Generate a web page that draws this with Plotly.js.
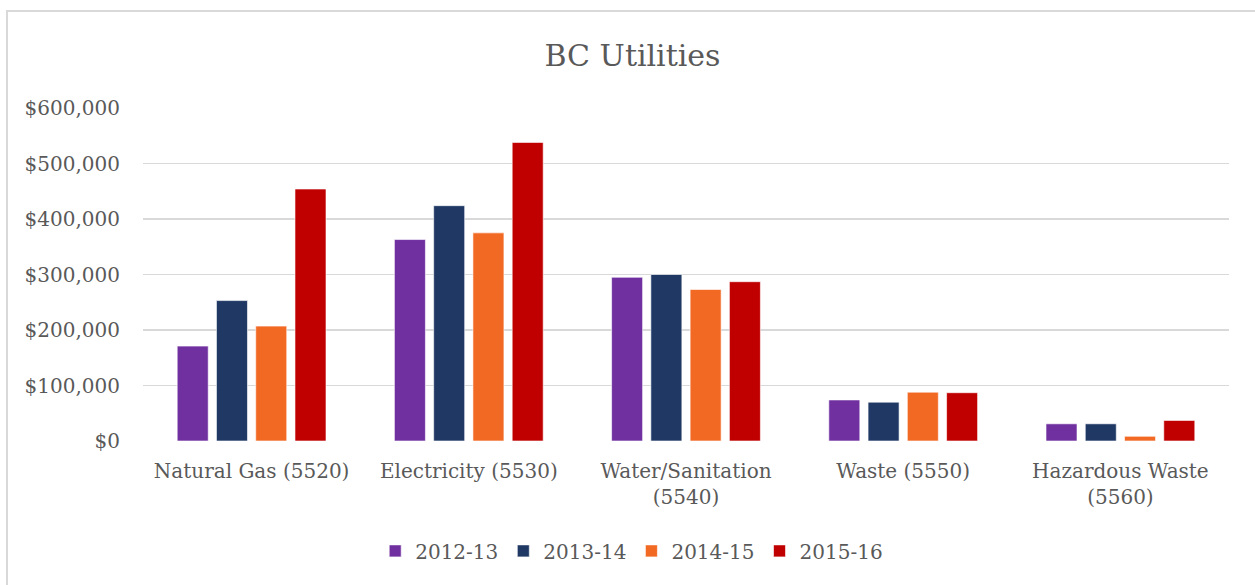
<!DOCTYPE html>
<html>
<head>
<meta charset="utf-8">
<script src="https://cdn.plot.ly/plotly-3.0.1.min.js"></script>
<style>
  html, body { margin: 0; padding: 0; background: #fff; overflow: hidden; }
  #chart { position: absolute; left: 0; top: 0; width: 1255px; height: 585px; }
  #frame { position: absolute; left: 6px; top: 10px; width: 1300px; height: 700px;
           border-left: 2px solid #d9d9d9; border-top: 2px solid #d9d9d9; pointer-events: none; }
</style>
</head>
<body>
<div id="chart"></div>
<div id="frame"></div>
<script>
const categories = ["Natural Gas (5520)", "Electricity (5530)", "Water/Sanitation<br>(5540)", "Waste (5550)", "Hazardous Waste<br>(5560)"];
const seriesNames = ["2012-13", "2013-14", "2014-15", "2015-16"];
const v2012 = [171000, 363000, 295000, 74000, 31000];
const v2013 = [253000, 424000, 300000, 70000, 31000];
const v2014 = [207000, 375000, 273000, 88000, 8500];
const v2015 = [454000, 538000, 287000, 87000, 37000];
const seriesColors = ["#7030A0", "#1F3864", "#F26924", "#C00000"];
const yTickVals = [0, 100000, 200000, 300000, 400000, 500000, 600000];
const yTickText = ["$0", "$100,000", "$200,000", "$300,000", "$400,000", "$500,000", "$600,000"];

const allValues = [v2012, v2013, v2014, v2015];
const traces = allValues.map((vals, i) => ({
  type: "bar",
  name: seriesNames[i],
  x: categories,
  y: vals,
  marker: { color: seriesColors[i], line: { color: "rgba(255,255,255,0.6)", width: 1 } },
  hoverinfo: "x+y+name"
}));

const fontFam = "DejaVu Serif, serif";
const layout = {
  width: 1255, height: 585,
  paper_bgcolor: "rgba(0,0,0,0)",
  plot_bgcolor: "#ffffff",
  margin: { l: 143, r: 26, t: 108, b: 144 },
  barmode: "group",
  bargap: 0.277,
  bargroupgap: 0.21,
  title: { text: "BC Utilities", font: { family: fontFam, size: 30, color: "#595959" }, x: 0.504, xanchor: "center", y: 0.905, yanchor: "middle" },
  font: { family: fontFam, size: 20, color: "#595959" },
  xaxis: {
    type: "category",
    tickfont: { family: fontFam, size: 20, color: "#595959" },
    showgrid: false, showline: false, zeroline: false,
    ticks: "", ticklabelstandoff: 16
  },
  yaxis: {
    range: [0, 600000],
    tickvals: yTickVals, ticktext: yTickText,
    tickfont: { family: fontFam, size: 20, color: "#595959" },
    showgrid: true, gridcolor: "#d9d9d9", gridwidth: 1.3,
    zeroline: false, showline: false, ticks: "",
    ticklabelstandoff: 22, fixedrange: true
  },
  legend: {
    orientation: "h", x: 0.45, xanchor: "center", y: -0.33, yanchor: "middle",
    font: { family: fontFam, size: 20, color: "#595959" },
    itemwidth: 30, traceorder: "normal", bgcolor: "rgba(0,0,0,0)"
  },
  showlegend: true
};

Plotly.newPlot("chart", traces, layout, { displayModeBar: false, staticPlot: true });
</script>
</body>
</html>
